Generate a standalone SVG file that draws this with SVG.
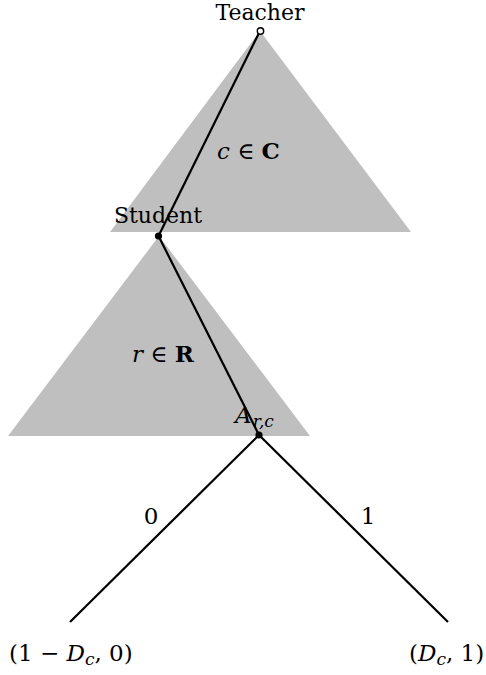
<svg xmlns="http://www.w3.org/2000/svg" width="486" height="675" viewBox="0 0 486 675">
<style>
.t{font-family:"DejaVu Serif","Liberation Serif",serif;font-size:22px;fill:#000}
.m{font-family:"DejaVu Serif","Liberation Serif",serif;font-size:23px;fill:#000}
.i{font-style:italic}
.b{font-weight:bold}
.tri{fill:#bfbfbf;stroke:none}
.e{stroke:#000;stroke-width:2.2;fill:none}
</style>
<rect width="486" height="675" fill="#fff"/>
<g id="triangles">
<polygon class="tri" points="260,31 110,232 411,232"/>
<polygon class="tri" points="159,236 8,436 310,436"/>
</g>
<g id="teacher">
<text class="t" x="260" y="20" text-anchor="middle">Teacher</text>
</g>
<g id="student">
<text class="t" x="158" y="223" text-anchor="middle">Student</text>
</g>
<g id="set-c">
<text class="m" x="217" y="159"><tspan class="i">c</tspan> ∈ <tspan class="b">C</tspan></text>
</g>
<g id="set-r">
<text class="m" x="132" y="362"><tspan class="i">r</tspan> ∈ <tspan class="b">R</tspan></text>
</g>
<g id="adversary">
<text class="m" x="235" y="423"><tspan class="i">A</tspan><tspan class="i" font-size="17" dx="1" dy="4">r,c</tspan></text>
</g>
<g id="leaf0">
<text class="m" x="9" y="661">(1 − <tspan class="i">D</tspan><tspan class="i" font-size="17" dy="4">c</tspan><tspan dy="-4">, 0)</tspan></text>
</g>
<g id="leaf1">
<text class="m" x="409" y="661">(<tspan class="i">D</tspan><tspan class="i" font-size="17" dy="4">c</tspan><tspan dy="-4">, 1)</tspan></text>
</g>
<g id="connectors">
<line class="e" x1="260" y1="31" x2="158.5" y2="236"/>
<line class="e" x1="158.5" y1="236" x2="259" y2="435"/>
<line class="e" x1="259" y1="435" x2="70" y2="622"/>
<line class="e" x1="259" y1="435" x2="448" y2="622"/>
<text class="m" x="151" y="524" text-anchor="middle">0</text>
<text class="m" x="368" y="524" text-anchor="middle">1</text>
</g>
<g id="points">
<circle cx="260.5" cy="31" r="3.2" fill="#fff" stroke="#000" stroke-width="1.4"/>
<circle cx="158.5" cy="236" r="3.6" fill="#000"/>
<circle cx="259" cy="435" r="3.6" fill="#000"/>
</g>
</svg>
